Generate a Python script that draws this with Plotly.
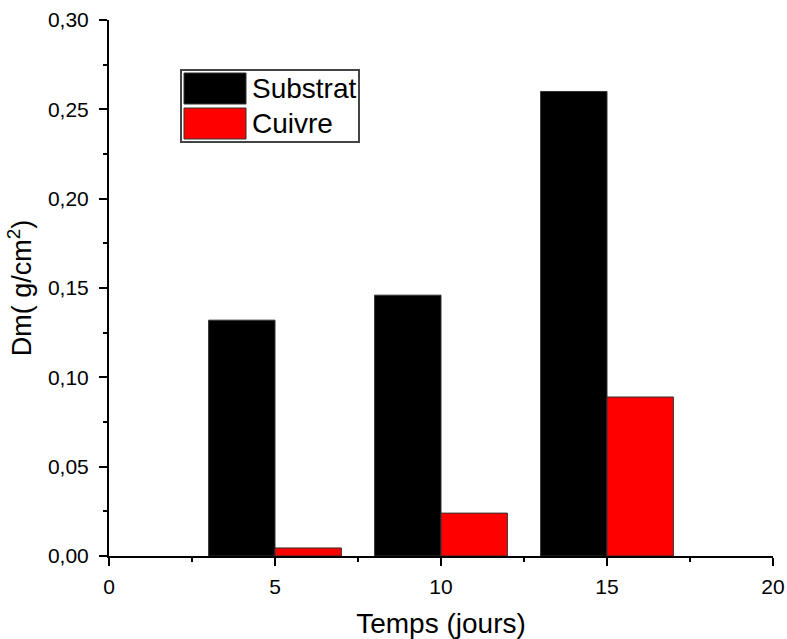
import plotly.graph_objects as go

jours = [5, 10, 15]
substrat = [0.132, 0.146, 0.260]
cuivre = [0.0045, 0.024, 0.089]
series_names = ["Substrat", "Cuivre"]
series_colors = ["#000000", "#ff0000"]

FONT = "Liberation Sans, Arial, sans-serif"

fig = go.Figure()
fig.add_trace(go.Bar(x=jours, y=substrat, name=series_names[0], width=2, offset=-2,
                     marker=dict(color=series_colors[0], line=dict(color="#333333", width=1))))
fig.add_trace(go.Bar(x=jours, y=cuivre, name=series_names[1], width=2, offset=0,
                     marker=dict(color=series_colors[1], line=dict(color="#333333", width=1))))

axis_common = dict(showline=True, linecolor="black", linewidth=2, ticks="outside",
                   ticklen=8, tickwidth=2, tickcolor="black", showgrid=False, zeroline=False,
                   tickfont=dict(family=FONT, size=21, color="black"), mirror=False,
                   automargin=False)

fig.update_xaxes(range=[0, 20], tick0=0, dtick=5, ticklabelstandoff=3,
                 minor=dict(ticks="outside", ticklen=4, tickwidth=2, tickcolor="black", dtick=2.5, showgrid=False),
                 title=dict(text="Temps (jours)", font=dict(family=FONT, size=28, color="black"), standoff=16),
                 **axis_common)
fig.update_yaxes(range=[0, 0.30], tick0=0, dtick=0.05, tickformat=".2f", ticklabelstandoff=6,
                 minor=dict(ticks="outside", ticklen=4, tickwidth=2, tickcolor="black", dtick=0.025, showgrid=False),
                 title=dict(text="Dm( g/cm<sup>2</sup>)", font=dict(family=FONT, size=27, color="black"), standoff=8),
                 **axis_common)

# Legend drawn as a boxed key in paper coordinates
shapes = []
annotations = []
W, H = 787, 639
ml, mr, mt, mb = 109, 14, 20, 83
pw, ph = W - ml - mr, H - mt - mb
def px(x):
    return (x - ml) / pw
def py(y):
    return 1 - (y - mt) / ph

shapes.append(dict(type="rect", xref="paper", yref="paper", x0=px(181), x1=px(359), y0=py(142), y1=py(70),
                   line=dict(color="#444444", width=2), fillcolor="white", layer="above"))
rows = [(73, 104), (108, 139)]
for (y0, y1), name, col in zip(rows, series_names, series_colors):
    shapes.append(dict(type="rect", xref="paper", yref="paper", x0=px(184), x1=px(246), y0=py(y1), y1=py(y0),
                       line=dict(color="#333333", width=1), fillcolor=col, layer="above"))
    annotations.append(dict(xref="paper", yref="paper", x=px(250), y=py((y0 + y1) / 2), text=name,
                            showarrow=False, xanchor="left", yanchor="middle",
                            font=dict(family=FONT, size=28, color="black")))

fig.update_layout(width=W, height=H, margin=dict(l=ml, r=mr, t=mt, b=mb, autoexpand=False),
                  plot_bgcolor="white", paper_bgcolor="white", barmode="overlay",
                  separators=", ", showlegend=False, shapes=shapes, annotations=annotations,
                  font=dict(family=FONT, color="black"))

fig.write_html("out.html")
